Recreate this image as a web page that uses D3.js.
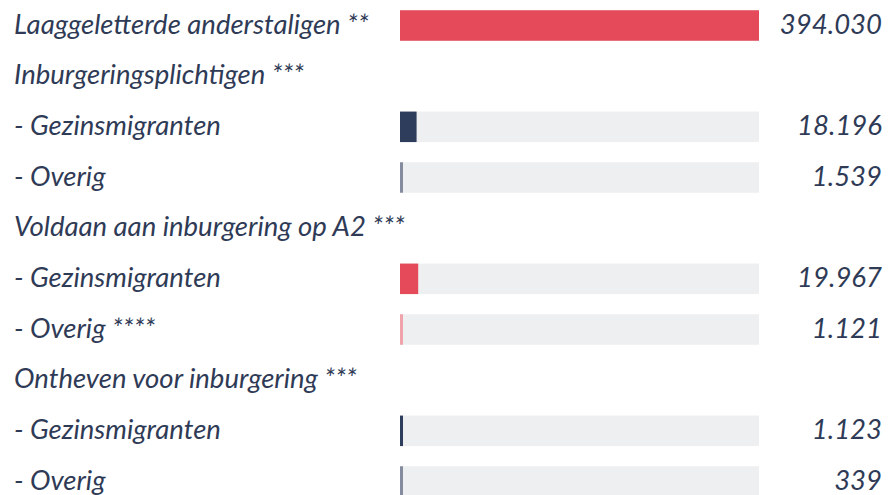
<!DOCTYPE html>
<html>
<head>
<meta charset="utf-8">
<script src="https://cdn.jsdelivr.net/npm/d3@7"></script>
<style>
  html, body { margin: 0; padding: 0; background: #fff; }
  svg { display: block; }
  text { font-family: Lato, "Open Sans", sans-serif; font-style: italic; fill: #2f3b56; }
</style>
</head>
<body>
<svg id="chart" width="888" height="495"></svg>
<script>
// Data
const labels = [
  "Laaggeletterde anderstaligen **",
  "Inburgeringsplichtigen ***",
  "- Gezinsmigranten",
  "- Overig",
  "Voldaan aan inburgering op A2 ***",
  "- Gezinsmigranten",
  "- Overig ****",
  "Ontheven voor inburgering ***",
  "- Gezinsmigranten",
  "- Overig"
];
const values = [394030, null, 18196, 1539, null, 19967, 1121, null, 1123, 339];
const colorKeys = ["red", null, "navy", "gray", null, "red", "pink", null, "navy", "gray"];
const palette = { red: "#e54a5a", navy: "#2e3d5b", gray: "#868ca0", pink: "#f0a3aa" };

const rows = labels.map((l, i) => ({ i, label: l, value: values[i], color: palette[colorKeys[i]] }));

const svg = d3.select("#chart");
const y = d3.scalePoint().domain(d3.range(rows.length)).range([25.5, 481.5]);
const x = d3.scaleLinear().domain([0, d3.max(values)]).range([400, 759]);
const barH = 30.5;
const minW = 3;

const nl = d3.formatLocale({ decimal: ",", thousands: ".", grouping: [3], currency: ["€", ""] });
const fmt = nl.format(",d");

const g = svg.selectAll("g.row").data(rows).join("g").attr("class", "row");

g.append("text")
  .attr("x", 14)
  .attr("y", d => y(d.i) + 8)
  .attr("font-size", 27.5)
  .text(d => d.label);

const bars = g.filter(d => d.value != null);

bars.append("rect")
  .attr("x", x(0))
  .attr("y", d => y(d.i) - barH / 2)
  .attr("width", x.range()[1] - x(0))
  .attr("height", barH)
  .attr("fill", "#eeeff1");

bars.append("rect")
  .attr("x", x(0))
  .attr("y", d => y(d.i) - barH / 2)
  .attr("width", d => Math.max(x(d.value) - x(0), minW))
  .attr("height", barH)
  .attr("fill", d => d.color);

bars.append("text")
  .attr("x", 882)
  .attr("y", d => y(d.i) + 8)
  .attr("text-anchor", "end")
  .attr("font-size", 27.5)
  .text(d => fmt(d.value));
</script>
</body>
</html>
